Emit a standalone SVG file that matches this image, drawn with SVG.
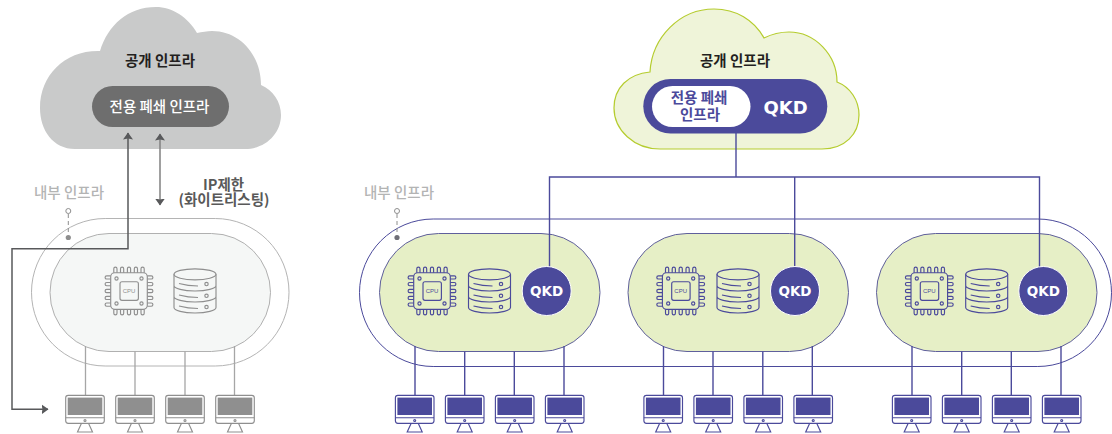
<svg xmlns="http://www.w3.org/2000/svg" width="1112" height="434" viewBox="0 0 1112 434">
<style>
text{font-family:"Noto Sans CJK KR","Noto Sans",sans-serif;text-anchor:middle;font-weight:700}
.t{font-size:14.500px;fill:#231f20}
.lab{font-size:14.500px;fill:#b3b4b4;font-weight:500}
.dark{font-size:14.500px;fill:#595959;font-weight:700}
.w{font-size:14.500px;fill:#fff;font-weight:500}
.pt{font-size:14.500px;fill:#4b4a9b;font-weight:700}
.q{font-family:"DejaVu Sans","Liberation Sans",sans-serif;fill:#fff;font-weight:700}
.cpu{font-family:"Liberation Sans",sans-serif;font-size:6px;font-weight:400}
.pu{color:#4b4a9b;fill:none}
.gr{color:#8f8f8f;fill:none}
.ic{stroke:currentColor;stroke-width:1.150;fill:none}
.fl{fill:currentColor;stroke:none}
.ring-g{fill:#fff;stroke:#b4b4b4;stroke-width:1}
.pill-g{fill:#f5f7f6;stroke:#b0b0b0;stroke-width:1}
.ring-p{fill:#fff;stroke:#4b4a9b;stroke-width:1}
.pill-p{fill:#e6efc6;stroke:#5f5f9c;stroke-width:1}
.wg{fill:none;stroke:#a6a6a6;stroke-width:1.300}
.wp{fill:none;stroke:#4b4a9b;stroke-width:1.400}
.wd{fill:none;stroke:#58595b;stroke-width:1.500}
.pin{stroke:#8e8e8e;stroke-width:1;fill:#fff}
</style>
<defs>
<g id="mon">
<rect class="ic" x="-19.300" y="0.300" width="38.600" height="28" rx="2.500"/>
<rect class="fl" x="-17.300" y="2.600" width="34.600" height="17.400"/>
<path class="ic" d="M-19.300,22.700H19.300M-3.500,28.300L-7.500,37H7.500L3.500,28.300"/>
<circle class="ic" cx="0" cy="25.500" r="1"/>
</g>
<g id="cpu">
<rect class="ic" x="-18.300" y="-18.300" width="36.600" height="36.600" rx="4"/>
<rect class="ic" x="-9" y="-9.300" width="18.400" height="18.600" rx="2"/>
<g class="ic">
<circle cx="-12.500" cy="-12.500" r="1.600"/><circle cx="12.500" cy="-12.500" r="1.600"/><circle cx="-12.500" cy="12.500" r="1.600"/><circle cx="12.500" cy="12.500" r="1.600"/>
<path d="M-15.200,-18.300v-4a1.600,1.600 0 0 1 3.200,0v4M-8.500,-18.300v-4a1.600,1.600 0 0 1 3.200,0v4M-1.600,-18.300v-4a1.600,1.600 0 0 1 3.200,0v4M5.300,-18.300v-4a1.600,1.600 0 0 1 3.200,0v4M12,-18.300v-4a1.600,1.600 0 0 1 3.200,0v4"/>
<path d="M-15.200,18.300v4a1.600,1.600 0 0 0 3.200,0v-4M-8.500,18.300v4a1.600,1.600 0 0 0 3.200,0v-4M-1.600,18.300v4a1.600,1.600 0 0 0 3.200,0v-4M5.300,18.300v4a1.600,1.600 0 0 0 3.200,0v-4M12,18.300v4a1.600,1.600 0 0 0 3.200,0v-4"/>
<path d="M-18.300,-15.200h-4a1.600,1.600 0 0 0 0,3.200h4M-18.300,-8.500h-4a1.600,1.600 0 0 0 0,3.200h4M-18.300,-1.600h-4a1.600,1.600 0 0 0 0,3.200h4M-18.300,5.300h-4a1.600,1.600 0 0 0 0,3.200h4M-18.300,12h-4a1.600,1.600 0 0 0 0,3.200h4"/>
<path d="M18.300,-15.200h4a1.600,1.600 0 0 1 0,3.200h-4M18.300,-8.500h4a1.600,1.600 0 0 1 0,3.200h-4M18.300,-1.600h4a1.600,1.600 0 0 1 0,3.200h-4M18.300,5.300h4a1.600,1.600 0 0 1 0,3.200h-4M18.300,12h4a1.600,1.600 0 0 1 0,3.200h-4"/>
</g>
</g>
<g id="db" class="ic">
<ellipse cx="0" cy="-16.700" rx="21" ry="5.500"/>
<path d="M-21,-16.700V16.500A21,5.500 0 0 0 21,16.500V-16.700M-21,-5.500A21,5.500 0 0 0 21,-5.500M-21,5.500A21,5.500 0 0 0 21,5.500"/>
<path d="M-16,-7.500Q-7,-5 3,-5M-16,4Q-7,6.500 3,6.500M-16,15Q-7,17.500 3,17.500"/>
<circle cx="11.500" cy="-7" r="1.700"/><circle cx="11.500" cy="4.800" r="1.700"/><circle cx="11.500" cy="16" r="1.700"/>
</g>
<marker id="ah" markerUnits="userSpaceOnUse" markerWidth="8" markerHeight="11" refX="6.500" refY="5.500" orient="auto-start-reverse" viewBox="0 0 8 11">
<path d="M0,0.500L7,5.500L0,10.500L1,5.500Z" fill="#58595b"/>
</marker>
</defs>

<g id="cloud-left">
<path fill="#c9caca" d="M75,149C53,149 40,130 40,108C40,75 65,50 100,51C108,25 128,7 156,7C172,7 188,17 197,33C202,32 207,31 212,31C240,31 261,55 261,85C273,90 281,102 281,115C281,134 265,149 245,149Z"/>
<text class="t" x="160" y="66">공개 인프라</text>
</g>
<g id="private-left">
<rect x="92" y="86" width="137" height="41" rx="20.500" fill="#6e6e6e"/>
<text class="w" x="159.500" y="112">전용 폐쇄 인프라</text>
</g>
<g id="label-ip">
<text class="dark"><tspan x="223.500" y="190">IP제한</tspan><tspan x="224" y="205">(화이트리스팅)</tspan></text>
</g>
<g id="internal-left">
<rect class="ring-g" x="31.500" y="218.500" width="257.500" height="147.500" rx="73.700"/>
<rect class="pill-g" x="50" y="233.500" width="220.500" height="118" rx="59"/>
<text class="lab" x="69" y="198">내부 인프라</text>
<path d="M68.300,214V234" stroke="#8e8e8e" stroke-width="1" stroke-dasharray="4 3" fill="none"/>
<circle class="pin" cx="68.300" cy="211" r="2.500"/>
<circle cx="68.300" cy="237.500" r="2.600" fill="#8e8e8e"/>
<g class="gr"><use href="#cpu" transform="translate(129,291)"/>
<text class="cpu" x="129" y="293" style="fill:#8f8f8f">CPU</text>
<use href="#db" transform="translate(195,291)"/></g>
</g>
<g id="connectors">
<path class="wg" d="M85.500,346V395M135,351.500V395M185,351.500V395M234.500,346V395"/>
<path d="M160,134V205" fill="none" stroke="#808080" stroke-width="1.500" marker-start="url(#ah)" marker-end="url(#ah)"/>
<path class="wd" d="M128,133V248.700H12V409.300H48" marker-start="url(#ah)" marker-end="url(#ah)"/>
</g>
<g id="monitors-left" class="gr">
<use href="#mon" transform="translate(85,395)"/><use href="#mon" transform="translate(135,395)"/><use href="#mon" transform="translate(185,395)"/><use href="#mon" transform="translate(235,395)"/>
</g>

<g id="cloud-right">
<path fill="#eff4d9" stroke="#b5cc2e" stroke-width="1.200" d="M660,149C634,149 614,130 614,108C614,88 628,74 650,72C652,37 680,9 714,9C736,9 754,20 764,38C772,34 780,32 789,32C815,32 837,55 837,82C850,87 859,100 859,115C859,134 845,149 822,149Z"/>
<text class="t" x="735" y="66">공개 인프라</text>
<rect x="643.300" y="79" width="184" height="54.500" rx="27.200" fill="#4b4a9b"/>
<rect x="652" y="86" width="98.500" height="41" rx="20.500" fill="#fff"/>
<text class="pt"><tspan x="699" y="103">전용 폐쇄</tspan><tspan x="700" y="120">인프라</tspan></text>
<text class="q" x="785.500" y="113.500" style="font-size:18px">QKD</text>
</g>
<g id="internal-right">
<rect class="ring-p" x="359.500" y="219" width="752" height="147.500" rx="73.700"/>
<text class="lab" x="399" y="198">내부 인프라</text>
<path d="M397,214V234" stroke="#8e8e8e" stroke-width="1" stroke-dasharray="4 3" fill="none"/>
<circle class="pin" cx="397" cy="211" r="2.500"/>
</g>
<g id="site-1"><rect class="pill-p" x="379.500" y="233.500" width="220.500" height="118" rx="59"/></g>
<g id="site-2"><rect class="pill-p" x="628" y="233.500" width="220.500" height="118" rx="59"/></g>
<g id="site-3"><rect class="pill-p" x="876.500" y="233.500" width="220.500" height="118" rx="59"/></g>
<circle cx="397" cy="237.500" r="2.600" fill="#6f6f78"/>
<g id="connectors-right">
<path class="wp" d="M736,133V177M549.500,270V177H1039.500V270M794.700,177V270"/>
<path class="wp" d="M415,346V395M464.700,351.500V395M514.300,351.500V395M564,346V395M663.500,346V395M713,351.500V395M762.800,351.500V395M812.300,346V395M912,346V395M961.700,351.500V395M1011.300,351.500V395M1061,346V395"/>
</g>
<g id="site-1-icons" class="pu">
<use href="#cpu" transform="translate(432,291)"/><text class="cpu" x="432" y="293" style="fill:#4b4a9b">CPU</text>
<use href="#db" transform="translate(489.500,291)"/>
<circle cx="546.700" cy="291" r="24.500" fill="#4b4a9b" stroke="#fff" stroke-width="1"/>
<text class="q" x="546.700" y="296" style="font-size:13.500px">QKD</text>
</g>
<g id="site-2-icons" class="pu">
<use href="#cpu" transform="translate(680.700,291)"/><text class="cpu" x="680.700" y="293" style="fill:#4b4a9b">CPU</text>
<use href="#db" transform="translate(738,291)"/>
<circle cx="795" cy="291" r="24.500" fill="#4b4a9b" stroke="#fff" stroke-width="1"/>
<text class="q" x="795" y="296" style="font-size:13.500px">QKD</text>
</g>
<g id="site-3-icons" class="pu">
<use href="#cpu" transform="translate(929.300,291)"/><text class="cpu" x="929.300" y="293" style="fill:#4b4a9b">CPU</text>
<use href="#db" transform="translate(986.700,291)"/>
<circle cx="1043.300" cy="291" r="24.500" fill="#4b4a9b" stroke="#fff" stroke-width="1"/>
<text class="q" x="1043.300" y="296" style="font-size:13.500px">QKD</text>
</g>
<g id="monitors-right" class="pu">
<use href="#mon" transform="translate(414.700,395)"/><use href="#mon" transform="translate(464.700,395)"/><use href="#mon" transform="translate(514.700,395)"/><use href="#mon" transform="translate(564.700,395)"/>
<use href="#mon" transform="translate(663.200,395)"/><use href="#mon" transform="translate(713.200,395)"/><use href="#mon" transform="translate(763.200,395)"/><use href="#mon" transform="translate(813.200,395)"/>
<use href="#mon" transform="translate(911.700,395)"/><use href="#mon" transform="translate(961.700,395)"/><use href="#mon" transform="translate(1011.700,395)"/><use href="#mon" transform="translate(1061.700,395)"/>
</g>
</svg>
